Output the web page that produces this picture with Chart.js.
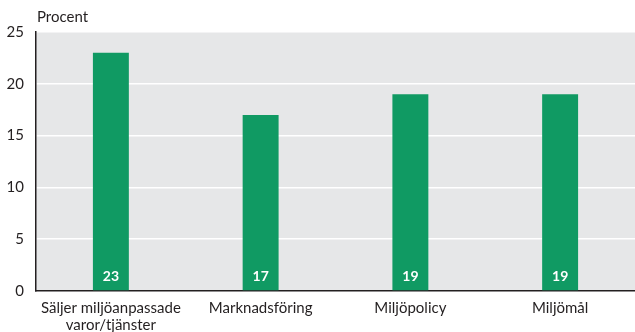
<!DOCTYPE html>
<html>
<head>
<meta charset="utf-8">
<script src="https://cdn.jsdelivr.net/npm/chart.js@4/dist/chart.umd.min.js"></script>
<style>
  html, body { margin: 0; padding: 0; background: #fff; }
  #wrap { width: 635px; height: 332px; }
</style>
</head>
<body>
<div id="wrap"><canvas id="chart" width="635" height="332"></canvas></div>
<script>
const categories = [["Säljer miljöanpassade", "varor/tjänster"], "Marknadsföring", "Miljöpolicy", "Miljömål"];
const values = [23, 17, 19, 19];
const yTicks = [0, 5, 10, 15, 20, 25];

const FONT = "Lato, 'Open Sans', sans-serif";
const TEXT = "#231f20";
const GREEN = "#109a63";

// grey panel behind the bars, plus unit title and value labels
const panel = {
  id: "panel",
  beforeDraw(chart) {
    const { ctx, chartArea: a } = chart;
    ctx.save();
    ctx.fillStyle = "#e6e7e8";
    ctx.fillRect(a.left, a.top, a.right - a.left, a.bottom - a.top);
    ctx.restore();
  },
  afterDraw(chart) {
    const { ctx, chartArea: a } = chart;
    ctx.save();
    ctx.fillStyle = TEXT;
    ctx.font = "15px " + FONT;
    ctx.textBaseline = "middle";
    ctx.textAlign = "left";
    ctx.fillText("Procent", a.left + 1, 17);
    const meta = chart.getDatasetMeta(0);
    ctx.fillStyle = "#ffffff";
    ctx.font = "bold 14px " + FONT;
    ctx.textAlign = "center";
    meta.data.forEach((bar, i) => {
      ctx.fillText(String(values[i]), bar.x, a.bottom - 15);
    });
    ctx.restore();
  }
};

new Chart(document.getElementById("chart"), {
  type: "bar",
  data: {
    labels: categories,
    datasets: [{
      data: values,
      backgroundColor: GREEN,
      barPercentage: 0.24,
      categoryPercentage: 1
    }]
  },
  options: {
    responsive: false,
    animation: false,
    layout: { padding: { top: 32, right: 0, left: 0, bottom: 0 } },
    plugins: { legend: { display: false }, tooltip: { enabled: false } },
    scales: {
      x: {
        grid: { display: false },
        border: { color: TEXT, width: 1.5 },
        ticks: { color: TEXT, font: { family: FONT, size: 15, lineHeight: 1.12 }, padding: 1, maxRotation: 0 },
        afterFit(scale) { scale.height = 41; }
      },
      y: {
        min: 0,
        max: 25,
        afterBuildTicks(scale) { scale.ticks = yTicks.map(v => ({ value: v })); },
        grid: { color: "#ffffff", lineWidth: 1.5, drawTicks: false },
        border: { color: TEXT, width: 1.5 },
        ticks: { color: TEXT, font: { family: FONT, size: 15 }, padding: 12 },
        afterFit(scale) { scale.width = 36; }
      }
    }
  },
  plugins: [panel]
});
</script>
</body>
</html>
